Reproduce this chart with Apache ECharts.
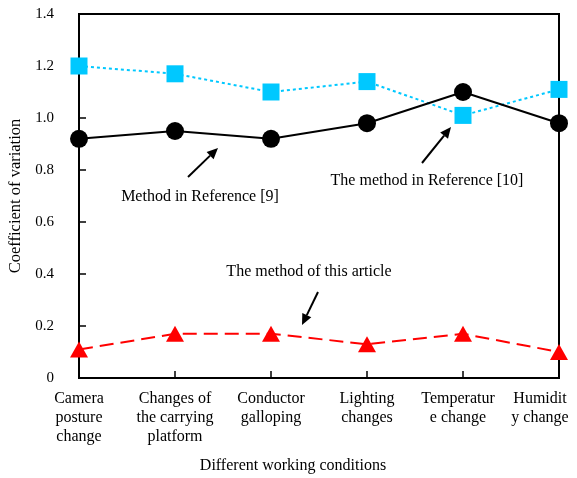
<!DOCTYPE html>
<html>
<head>
<meta charset="utf-8">
<script src="https://cdn.jsdelivr.net/npm/echarts@6/dist/echarts.min.js"></script>
<style>
  html, body { margin: 0; padding: 0; background: #fff; }
  #chart { width: 577px; height: 478px; }
</style>
</head>
<body>
<div id="chart"></div>
<script>
// Working conditions along the horizontal axis
const conditions = [
  'Camera\nposture\nchange',
  'Changes of\nthe carrying\nplatform',
  'Conductor\ngalloping',
  'Lighting\nchanges',
  'Temperatur\ne change',
  'Humidit\ny change'
];

// Coefficient of variation for each method
const ref9Values = [0.92, 0.95, 0.92, 0.98, 1.10, 0.98];
const ref10Values = [1.20, 1.17, 1.10, 1.14, 1.01, 1.11];
const articleValues = [0.11, 0.17, 0.17, 0.13, 0.17, 0.10];

// Value axis ticks
const yMin = 0, yMax = 1.4, yStep = 0.2;

const FONT = '"Liberation Serif", "Times New Roman", serif';

const chart = echarts.init(document.getElementById('chart'), null, { renderer: 'canvas' });

function arrow(x1, y1, x2, y2) {
  const ang = Math.atan2(y2 - y1, x2 - x1);
  const len = 11, half = 5;
  const bx = x2 - len * Math.cos(ang), by = y2 - len * Math.sin(ang);
  const px = -Math.sin(ang) * half, py = Math.cos(ang) * half;
  return [
    { type: 'line', shape: { x1: x1, y1: y1, x2: bx, y2: by },
      style: { stroke: '#000', lineWidth: 2 }, z: 10 },
    { type: 'polygon', shape: { points: [[x2, y2], [bx + px, by + py], [bx - px, by - py]] },
      style: { fill: '#000' }, z: 10 }
  ];
}

function note(text, x, y) {
  return { type: 'text', x: x, y: y, z: 10,
    style: { text: text, font: '16px ' + FONT, fill: '#000', align: 'center', verticalAlign: 'middle' } };
}

const axisLabelData = conditions.map(function (c, i) {
  if (i === conditions.length - 1) return { value: c, textStyle: { padding: [0, 38, 0, 0] } };
  if (i === conditions.length - 2) return { value: c, textStyle: { padding: [0, 10, 0, 0] } };
  return c;
});

chart.setOption({
  backgroundColor: '#fff',
  animation: false,
  grid: { left: 79, right: 18, top: 14, bottom: 100, containLabel: false, outerBoundsMode: 'none',
    show: true, borderColor: '#000', borderWidth: 2 },
  xAxis: {
    type: 'category',
    data: axisLabelData,
    boundaryGap: false,
    axisLine: { lineStyle: { color: '#000', width: 2 } },
    axisTick: { inside: true, length: 7, lineStyle: { color: '#000', width: 1.5 } },
    axisLabel: { interval: 0, color: '#000', fontFamily: FONT, fontSize: 16, lineHeight: 19, margin: 11,
      hideOverlap: false },
    splitLine: { show: false }
  },
  yAxis: {
    type: 'value',
    min: yMin, max: yMax, interval: yStep,
    name: 'Coefficient of variation',
    nameLocation: 'middle',
    nameGap: 51,
    nameTextStyle: { color: '#000', fontFamily: FONT, fontSize: 16.5 },
    axisLine: { show: true, lineStyle: { color: '#000', width: 2 } },
    axisTick: { show: true, inside: true, length: 7, lineStyle: { color: '#000', width: 1.5 } },
    axisLabel: { color: '#000', fontFamily: FONT, fontSize: 15, margin: 25,
      formatter: function (v) { return v === 0 ? '0' : v.toFixed(1); } },
    splitLine: { show: false }
  },
  series: [
    {
      name: 'The method of this article',
      type: 'line', data: articleValues,
      symbol: 'triangle', symbolSize: [18, 16],
      itemStyle: { color: '#ff0000' },
      lineStyle: { color: '#ff0000', width: 2, type: [14, 7] },
      z: 3
    },
    {
      name: 'The method in Reference [10]',
      type: 'line', data: ref10Values,
      symbol: 'rect', symbolSize: 17,
      itemStyle: { color: '#00c8ff' },
      lineStyle: { color: '#00c8ff', width: 2, type: [3, 3] },
      z: 4
    },
    {
      name: 'Method in Reference [9]',
      type: 'line', data: ref9Values,
      symbol: 'circle', symbolSize: 18,
      itemStyle: { color: '#000' },
      lineStyle: { color: '#000', width: 2 },
      z: 5
    }
  ],
  graphic: [].concat(
    arrow(188, 177, 218, 148),
    arrow(422, 163, 451, 127),
    arrow(318, 292, 302, 325),
    [
      note('Method in Reference [9]', 200, 197),
      note('The method in Reference [10]', 427, 181),
      note('The method of this article', 309, 272),
      note('Different working conditions', 293, 466)
    ]
  )
});
</script>
</body>
</html>
